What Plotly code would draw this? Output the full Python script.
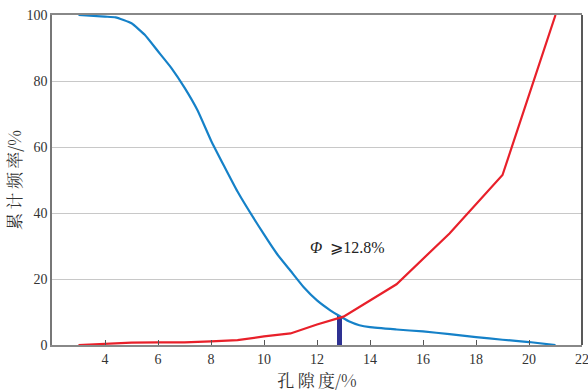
import plotly.graph_objects as go

blue_x = [3, 4, 4.4, 5, 5.5, 6, 6.5, 7, 7.5, 8, 9, 10, 10.5, 11, 11.5, 12, 12.5, 12.8, 13.2, 13.6, 14, 15, 16, 17, 18, 19, 20, 21]
blue_y = [100, 99.5, 99.3, 97.5, 94, 89, 84, 78, 71, 62, 46.5, 33.5, 27.5, 22.5, 17.5, 13.5, 10.5, 9, 7.2, 6, 5.4, 4.7, 4.1, 3.3, 2.4, 1.6, 0.9, 0]
red_x = [3, 4, 5, 6, 7, 8, 9, 10, 11, 12, 13, 14, 15, 17, 19, 21]
red_y = [0, 0.4, 0.7, 0.8, 0.8, 1.1, 1.5, 2.6, 3.5, 6.2, 8.6, 13.5, 18.4, 33.8, 51.5, 100]
bar_x = [12.85]
bar_y = [8.7]
x_ticks = [4, 6, 8, 10, 12, 14, 16, 18, 20, 22]
y_ticks = [0, 20, 40, 60, 80, 100]

serif = "Liberation Serif, Times New Roman, serif"
cjk = "Noto Serif CJK SC, Noto Sans CJK SC, serif"

fig = go.Figure()
fig.add_trace(go.Bar(x=bar_x, y=bar_y, width=0.2, marker=dict(color="#2e3192", line=dict(width=0)), showlegend=False))
fig.add_trace(go.Scatter(x=blue_x, y=blue_y, mode="lines", line=dict(color="#1581c8", width=2.2, shape="spline", smoothing=0.4), showlegend=False, cliponaxis=False))
fig.add_trace(go.Scatter(x=red_x, y=red_y, mode="lines", line=dict(color="#e8202a", width=2.2), showlegend=False, cliponaxis=False))

fig.add_annotation(x=13.15, y=29.6, xref="x", yref="y", showarrow=False,
                   text="<i>Φ</i>  ⩾12.8%", font=dict(family=serif, size=16, color="#222"))

fig.add_shape(type="line", xref="paper", yref="paper", x0=1, x1=1, y0=0, y1=1,
              line=dict(color="#222", width=1.5))

fig.update_layout(
    width=588, height=392,
    margin=dict(l=52, r=6, t=15, b=47),
    plot_bgcolor="white", paper_bgcolor="white",
    font=dict(family=serif, size=14, color="#333"),
    xaxis=dict(range=[2, 22], tickvals=x_ticks, ticks="inside", ticklen=5, tickcolor="#555",
               showgrid=False, zeroline=False, showline=True, linecolor="#888", linewidth=1.5,
               mirror=True, ticklabeloverflow="allow", automargin=False,
               title=dict(text="孔\u2009隙\u2009度/%", font=dict(family=cjk, size=17, color="#333"), standoff=9),
               tickfont=dict(family=serif, size=14)),
    yaxis=dict(range=[0, 100], tickvals=y_ticks, ticks="", showgrid=True, gridcolor="#c8c8c8",
               gridwidth=1, zeroline=False, showline=True, linecolor="#777", linewidth=1.5,
               automargin=False,
               title=dict(text="累\u2009计\u2009频\u2009率/%", font=dict(family=cjk, size=17, color="#333"), standoff=1),
               tickfont=dict(family=serif, size=14)),
    bargap=0,
)

fig.write_html("out.html", config={"displayModeBar": False},
               post_script="document.body.style.margin='0';document.body.style.overflow='hidden';")
